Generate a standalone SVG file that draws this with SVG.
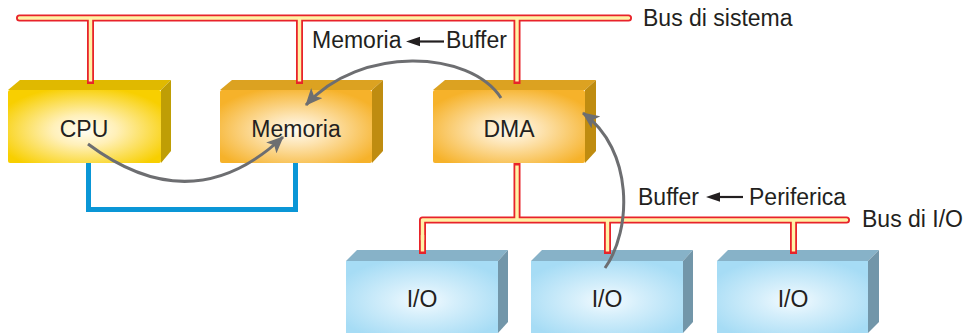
<svg xmlns="http://www.w3.org/2000/svg" width="970" height="333" viewBox="0 0 970 333">
<defs>
<radialGradient id="gY" cx="0.5" cy="0.55" r="0.6">
<stop offset="0" stop-color="#fffef6"/>
<stop offset="0.35" stop-color="#fff0b8"/>
<stop offset="1" stop-color="#f8cf00"/>
</radialGradient>
<radialGradient id="gO" cx="0.5" cy="0.55" r="0.6">
<stop offset="0" stop-color="#fffbf2"/>
<stop offset="0.35" stop-color="#fde3b0"/>
<stop offset="1" stop-color="#f6b22a"/>
</radialGradient>
<radialGradient id="gB" cx="0.5" cy="0.55" r="0.6">
<stop offset="0" stop-color="#f4fbff"/>
<stop offset="0.35" stop-color="#d6effb"/>
<stop offset="1" stop-color="#a6dcf5"/>
</radialGradient>
<marker id="ah" markerUnits="userSpaceOnUse" markerWidth="17" markerHeight="15" viewBox="0 0 17 15" refX="16" refY="7.5" orient="auto">
<path d="M0,0 L17,7.5 L0,15 L4,7.5 z" fill="#6d6e71"/>
</marker>
</defs>
<style>
.t{font-family:"Liberation Sans",Arial,Helvetica,sans-serif;font-size:23px;fill:#231f20}
.tm{text-anchor:middle}
.yT{fill:#e0b900}.yR{fill:#bf9e05}
.oT{fill:#dca221}.oR{fill:#bf8c10}
.bT{fill:#87b2c8}.bR{fill:#7296a9}
.red{fill:none;stroke:#e8232a;stroke-width:7;stroke-linecap:butt}
.yel{fill:none;stroke:#fff2a6;stroke-width:3.4;stroke-linecap:butt}
.rnd{stroke-linecap:round;stroke-linejoin:round}
.ga{fill:none;stroke:#6d6e71;stroke-width:3;marker-end:url(#ah)}
</style>

<g id="links-blue">
<path d="M88.5,160 V209.5 H295.5 V160" fill="none" stroke="#0a96d6" stroke-width="5"/>
</g>

<g id="cpu">
<polygon class="yT" points="8,90 20,80 171,80 161,90"/>
<polygon class="yR" points="161,90 171,80 171,151 161,163"/>
<rect x="8" y="90" width="153" height="73" rx="2" fill="url(#gY)"/>
<text class="t tm" x="84" y="137">CPU</text>
</g>

<g id="memoria">
<polygon class="oT" points="220,90 232,80 383,80 372,90"/>
<polygon class="oR" points="372,90 383,80 383,151 372,163"/>
<rect x="220" y="90" width="152" height="73" rx="2" fill="url(#gO)"/>
<text class="t tm" x="296" y="137">Memoria</text>
</g>

<g id="dma">
<polygon class="oT" points="433,90 445,80 596,80 585,90"/>
<polygon class="oR" points="585,90 596,80 596,151 585,163"/>
<rect x="433" y="90" width="152" height="73" rx="2" fill="url(#gO)"/>
<text class="t tm" x="509" y="137">DMA</text>
</g>

<g id="io1">
<polygon class="bT" points="346,261 357,250 508,250 498,261"/>
<polygon class="bR" points="498,261 508,250 508,322 498,333"/>
<rect x="346" y="261" width="152" height="72" fill="url(#gB)"/>
<text class="t tm" x="422" y="307">I/O</text>
</g>

<g id="io2">
<polygon class="bT" points="531,261 542,250 693,250 683,261"/>
<polygon class="bR" points="683,261 693,250 693,322 683,333"/>
<rect x="531" y="261" width="152" height="72" fill="url(#gB)"/>
<text class="t tm" x="607" y="307">I/O</text>
</g>

<g id="io3">
<polygon class="bT" points="717,261 728,250 879,250 868,261"/>
<polygon class="bR" points="868,261 879,250 879,322 868,333"/>
<rect x="717" y="261" width="151" height="72" fill="url(#gB)"/>
<text class="t tm" x="793" y="307">I/O</text>
</g>

<g id="connectors">
<g id="buses">
<path class="red rnd" d="M19.5,18 H628.5"/>
<path class="red" d="M90.5,18 V84 M299.5,18 V84 M517,18 V84 M517,163 V220 M607.5,220 V254 M793.5,220 V254 M422.5,235 V254"/>
<path class="red rnd" d="M422.5,240 V220 H846.5"/>
<path class="yel rnd" d="M19.5,18 H628.5"/>
<path class="yel" d="M90.5,18 V81.5 M299.5,18 V81.5 M517,18 V81.5 M517,165.5 V220 M607.5,220 V251.5 M793.5,220 V251.5 M422.5,235 V251.5"/>
<path class="yel rnd" d="M422.5,240 V220 H846.5"/>
</g>
<g id="flows">
<path class="ga" d="M88,144 Q192,222 283,137"/>
<path class="ga" d="M501,98 C470,50 360,45 306,105"/>
<path class="ga" d="M605,268 C632,230 634,150 583,113"/>
</g>
<g id="label-arrows">
<line x1="418" y1="41.5" x2="444" y2="41.5" stroke="#231f20" stroke-width="2.2"/>
<polygon points="406,41.5 420,36.8 420,46.2" fill="#231f20"/>
<line x1="718" y1="197" x2="743" y2="197" stroke="#231f20" stroke-width="2.2"/>
<polygon points="706,197 720,192.3 720,201.7" fill="#231f20"/>
</g>
</g>

<g id="labels">
<text class="t" x="643" y="26">Bus di sistema</text>
<text class="t" x="312" y="48">Memoria</text>
<text class="t" x="446" y="48">Buffer</text>
<text class="t" x="638" y="205">Buffer</text>
<text class="t" x="749" y="205">Periferica</text>
<text class="t" x="862" y="227">Bus di I/O</text>
</g>
</svg>
